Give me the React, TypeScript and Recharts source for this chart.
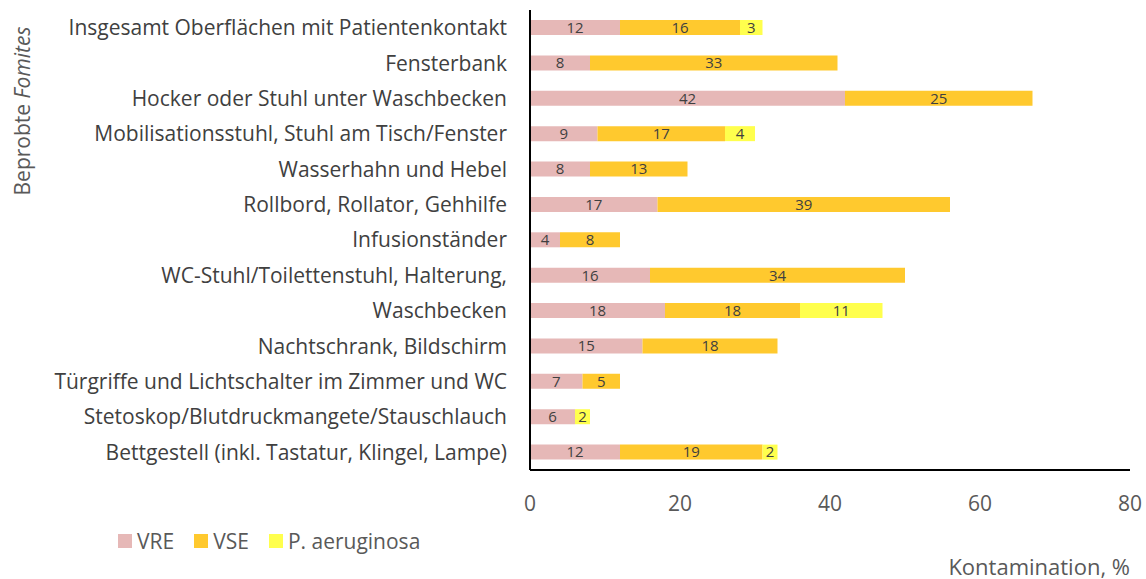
import React from "react"
import { BarChart, Bar, XAxis, YAxis, Legend, LabelList } from "recharts"

const categories = [
  "Insgesamt Oberflächen mit Patientenkontakt",
  "Fensterbank",
  "Hocker oder Stuhl unter Waschbecken",
  "Mobilisationsstuhl, Stuhl am Tisch/Fenster",
  "Wasserhahn und Hebel",
  "Rollbord, Rollator, Gehhilfe",
  "Infusionständer",
  "WC-Stuhl/Toilettenstuhl, Halterung,",
  "Waschbecken",
  "Nachtschrank, Bildschirm",
  "Türgriffe und Lichtschalter im Zimmer und WC",
  "Stetoskop/Blutdruckmangete/Stauschlauch",
  "Bettgestell (inkl. Tastatur, Klingel, Lampe)",
]

const vre = [12, 8, 42, 9, 8, 17, 4, 16, 18, 15, 7, 6, 12]
const vse = [16, 33, 25, 17, 13, 39, 8, 34, 18, 18, 5, 0, 19]
const pae = [3, 0, 0, 4, 0, 0, 0, 0, 11, 0, 0, 2, 2]

const xTicks = [0, 20, 40, 60, 80]

const series = [
  { key: "vre", name: "VRE", color: "#E6B8B7" },
  { key: "vse", name: "VSE", color: "#FFC92E" },
  { key: "pae", name: "P. aeruginosa", color: "#FFFF4D" },
]

const data = categories.map((name, i) => ({ name, vre: vre[i], vse: vse[i], pae: pae[i] }))

const FONT = "'Open Sans', sans-serif"
const GREY = "#595959"
const FS = 21

const fmt = (v: any) => (v ? String(v) : "")

function LegendBox() {
  return (
    <div style={{ display: "flex", gap: 20, fontSize: FS, color: GREY, fontFamily: FONT }}>
      {series.map((s) => (
        <div key={s.key} style={{ display: "flex", alignItems: "center" }}>
          <span style={{ width: 14, height: 14, background: s.color, display: "inline-block", marginRight: 5 }} />
          {s.name}
        </div>
      ))}
    </div>
  )
}

export default function App() {
  return (
    <div style={{ position: "absolute", left: 0, top: 0, width: 1146, height: 579, fontFamily: FONT, background: "#fff" }}>
      <BarChart
        width={1146}
        height={579}
        data={data}
        layout="vertical"
        barSize={15}
        margin={{ top: 10, right: 16, bottom: 31, left: 0 }}
      >
        <XAxis
          type="number"
          domain={[0, 80]}
          ticks={xTicks}
          axisLine={{ stroke: "#000", strokeWidth: 2 }}
          tickLine={false}
          tickSize={0}
          tickMargin={26}
          height={50}
          tick={{ fill: GREY, fontSize: FS, fontFamily: FONT }}
        />
        <YAxis
          type="category"
          dataKey="name"
          width={530}
          axisLine={{ stroke: "#000", strokeWidth: 2 }}
          tickLine={false}
          tickSize={0}
          tickMargin={23}
          interval={0}
          tick={{ fill: "#404040", fontSize: FS, fontFamily: FONT }}
        />
        <Legend verticalAlign="bottom" wrapperStyle={{ left: 118, bottom: 24 }} content={() => <LegendBox />} />
        {series.map((s) => (
          <Bar key={s.key} dataKey={s.key} name={s.name} stackId="a" fill={s.color} isAnimationActive={false}>
            <LabelList dataKey={s.key} position="center" fill="#404040" fontSize={15} formatter={fmt} />
          </Bar>
        ))}
      </BarChart>
      <div
        style={{
          position: "absolute",
          left: 22,
          top: 111,
          transform: "translate(-50%, -50%) rotate(-90deg)",
          whiteSpace: "nowrap",
          fontSize: FS,
          color: GREY,
        }}
      >
        Beprobte <i>Fomites</i>
      </div>
      <div style={{ position: "absolute", right: 16, top: 551, fontSize: 22, color: GREY, whiteSpace: "nowrap" }}>
        Kontamination, %
      </div>
    </div>
  )
}
